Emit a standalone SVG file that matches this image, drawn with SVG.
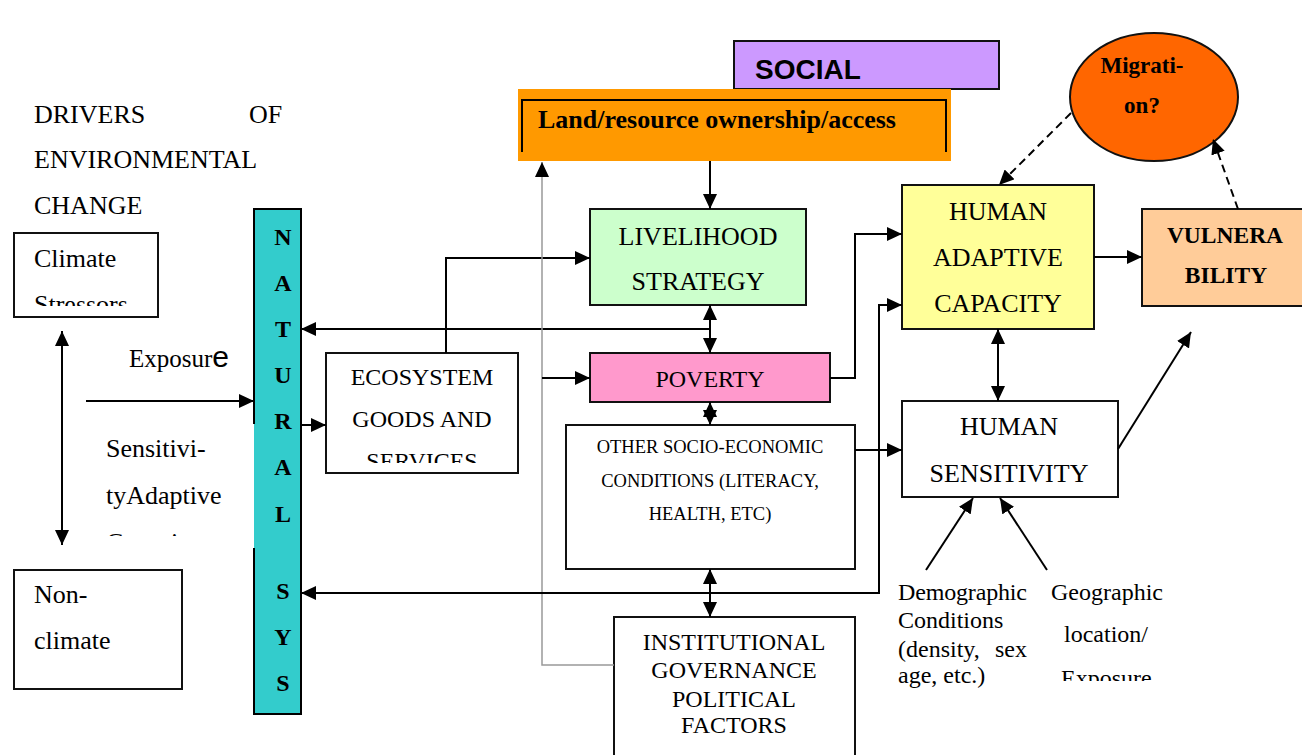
<svg xmlns="http://www.w3.org/2000/svg" width="1302" height="755" viewBox="0 0 1302 755">
<style>
.t{font-family:"Liberation Serif","Times New Roman",serif;fill:#000}
.b{font-weight:bold}
.c{text-anchor:middle}
.box{stroke:#111;stroke-width:2}
.ln{fill:none;stroke:#000;stroke-width:2}
.gr{fill:none;stroke:#999;stroke-width:1.5}
.ds{fill:none;stroke:#000;stroke-width:2;stroke-dasharray:8 5}
</style>
<defs>
<marker id="ah" markerUnits="userSpaceOnUse" markerWidth="15" markerHeight="14" refX="15" refY="7" orient="auto-start-reverse"><path d="M0,0 L15,7 L0,14 z" fill="#000"/></marker>
<marker id="ahg" markerUnits="userSpaceOnUse" markerWidth="15" markerHeight="14" refX="15" refY="7" orient="auto"><path d="M0,0 L15,7 L0,14 z" fill="#000"/></marker>
<clipPath id="cClim"><rect x="14" y="233" width="144" height="73"/></clipPath>
<clipPath id="cSens"><rect x="90" y="430" width="160" height="106"/></clipPath>
<clipPath id="cEco"><rect x="326" y="353" width="192" height="110"/></clipPath>
<clipPath id="cGeo"><rect x="1040" y="570" width="140" height="111"/></clipPath>
</defs>
<rect width="1302" height="755" fill="#fff"/>

<g id="title">
<text class="t" x="34" y="123" font-size="26">DRIVERS</text>
<text class="t" x="249" y="123" font-size="26">OF</text>
<text class="t" x="34" y="168" font-size="26">ENVIRONMENTAL</text>
<text class="t" x="34" y="214" font-size="26">CHANGE</text>
</g>

<g id="climate">
<rect class="box" x="14" y="233" width="144" height="84" fill="#fff"/>
<g clip-path="url(#cClim)">
<text class="t" x="34" y="267" font-size="26">Climate</text>
<text class="t" x="34" y="313" font-size="26">Stressors</text>
</g>
</g>

<g id="nonclimate">
<rect class="box" x="14" y="570" width="168" height="119" fill="#fff"/>
<text class="t" x="34" y="603" font-size="26">Non-</text>
<text class="t" x="34" y="649" font-size="26">climate</text>
</g>

<g id="exposure-label">
<text class="t" x="129" y="367" font-size="25">Exposur<tspan font-family="Liberation Sans, Arial, sans-serif" font-size="30">e</tspan></text>
</g>

<g id="sensitivity-label" clip-path="url(#cSens)">
<text class="t" x="106" y="457" font-size="26">Sensitivi-</text>
<text class="t" x="106" y="504" font-size="26">tyAdaptive</text>
<text class="t" x="106" y="551" font-size="26">Capacity</text>
</g>

<g id="natural-systems">
<rect x="254" y="209" width="47" height="505" fill="#33CCCC"/>
<path class="ln" d="M254,424 V209 H301 V714 H254 V548" stroke="#111"/>
<g class="t b c" font-size="24">
<text x="283" y="245">N</text>
<text x="283" y="291">A</text>
<text x="283" y="337">T</text>
<text x="283" y="383">U</text>
<text x="283" y="429">R</text>
<text x="283" y="475">A</text>
<text x="283" y="522">L</text>
<text x="283" y="599">S</text>
<text x="283" y="645">Y</text>
<text x="283" y="691">S</text>
</g>
</g>

<g id="ecosystem">
<rect class="box" x="326" y="353" width="192" height="120" fill="#fff"/>
<g clip-path="url(#cEco)" class="t c" font-size="24">
<text x="422" y="385">ECOSYSTEM</text>
<text x="422" y="427">GOODS AND</text>
<text x="422" y="469">SERVICES</text>
</g>
</g>

<g id="social">
<rect class="box" x="734" y="41" width="265" height="48" fill="#CC99FF"/>
<text x="755" y="79" font-family="Liberation Sans, Arial, sans-serif" font-weight="bold" font-size="28">SOCIAL</text>
</g>

<g id="land">
<rect x="518" y="89" width="433" height="72" fill="#FF9900"/>
<path class="ln" d="M522,152 V100 H946 V152"/>
<text class="t b" x="538" y="128" font-size="26">Land/resource ownership/access</text>
</g>

<g id="livelihood">
<rect class="box" x="590" y="209" width="216" height="96" fill="#CCFFCC"/>
<text class="t c" x="698" y="245" font-size="26">LIVELIHOOD</text>
<text class="t c" x="698" y="290" font-size="26">STRATEGY</text>
</g>

<g id="poverty">
<rect class="box" x="590" y="353" width="240" height="49" fill="#FF99CC"/>
<text class="t c" x="710" y="387" font-size="24">POVERTY</text>
</g>

<g id="other-socio">
<rect class="box" x="566" y="425" width="289" height="144" fill="#fff"/>
<g class="t c" font-size="18.5">
<text x="710" y="453">OTHER SOCIO-ECONOMIC</text>
<text x="710" y="487">CONDITIONS (LITERACY,</text>
<text x="710" y="520">HEALTH, ETC)</text>
</g>
</g>

<g id="institutional">
<rect class="box" x="614" y="617" width="241" height="150" fill="#fff"/>
<g class="t c" font-size="24">
<text x="734" y="650">INSTITUTIONAL</text>
<text x="734" y="678">GOVERNANCE</text>
<text x="734" y="707">POLITICAL</text>
<text x="734" y="733">FACTORS</text>
</g>
</g>

<g id="human-adaptive">
<rect class="box" x="902" y="185" width="192" height="144" fill="#FFFF99"/>
<g class="t c" font-size="26">
<text x="998" y="220">HUMAN</text>
<text x="998" y="266">ADAPTIVE</text>
<text x="998" y="312">CAPACITY</text>
</g>
</g>

<g id="vulnerability">
<rect class="box" x="1142" y="209" width="170" height="97" fill="#FFCC99"/>
<text class="t b c" x="1225" y="243" font-size="23.5">VULNERA</text>
<text class="t b c" x="1226" y="283" font-size="23.5">BILITY</text>
</g>

<g id="migration">
<ellipse cx="1154" cy="97" rx="84" ry="64" fill="#FF6600" stroke="#111" stroke-width="2"/>
<text class="t b c" x="1142" y="73" font-size="23">Migrati-</text>
<text class="t b c" x="1142" y="113" font-size="23">on?</text>
</g>

<g id="human-sensitivity">
<rect class="box" x="902" y="401" width="216" height="96" fill="#fff"/>
<text class="t c" x="1009" y="435" font-size="26">HUMAN</text>
<text class="t c" x="1009" y="482" font-size="26">SENSITIVITY</text>
</g>

<g id="demographic" class="t" font-size="24">
<text x="898" y="600" textLength="129" lengthAdjust="spacing">Demographic</text>
<text x="898" y="628">Conditions</text>
<text x="898" y="657">(density,</text>
<text x="995" y="657">sex</text>
<text x="898" y="683">age, etc.)</text>
</g>

<g id="geographic" class="t" font-size="24">
<text x="1051" y="600">Geographic</text>
<text x="1064" y="642">location/</text>
<g clip-path="url(#cGeo)"><text x="1061" y="686">Exposure</text></g>
</g>

<g id="connectors">
<line class="ln" x1="62" y1="331" x2="62" y2="545" marker-start="url(#ah)" marker-end="url(#ah)"/>
<line class="ln" x1="86" y1="401" x2="254" y2="401" marker-end="url(#ah)"/>
<line class="ln" x1="301" y1="425" x2="326" y2="425" marker-end="url(#ah)"/>
<path class="ln" d="M446,353 V258 H590" marker-end="url(#ah)"/>
<line class="ln" x1="710" y1="329" x2="301" y2="329" marker-end="url(#ah)"/>
<line class="ln" x1="710" y1="305" x2="710" y2="353" marker-start="url(#ah)" marker-end="url(#ah)"/>
<line class="ln" x1="710" y1="161" x2="710" y2="209" marker-end="url(#ah)"/>
<path class="gr" d="M614,665 H542 V162" marker-end="url(#ahg)"/>
<line class="ln" x1="542" y1="378" x2="590" y2="378" marker-end="url(#ah)"/>
<path class="ln" d="M830,378 H855 V234 H902" marker-end="url(#ah)"/>
<line class="ln" x1="710" y1="402" x2="710" y2="425" marker-start="url(#ah)" marker-end="url(#ah)"/>
<line class="ln" x1="855" y1="450" x2="902" y2="450" marker-end="url(#ah)"/>
<path class="ln" d="M301,593 H879 V305 H902" marker-start="url(#ah)" marker-end="url(#ah)"/>
<line class="ln" x1="710" y1="569" x2="710" y2="617" marker-start="url(#ah)" marker-end="url(#ah)"/>
<line class="ln" x1="1094" y1="257" x2="1142" y2="257" marker-end="url(#ah)"/>
<line class="ln" x1="998" y1="329" x2="998" y2="401" marker-start="url(#ah)" marker-end="url(#ah)"/>
<line class="ln" x1="1118" y1="449" x2="1191" y2="332" marker-end="url(#ah)"/>
<line class="ln" x1="926" y1="570" x2="973" y2="498" marker-end="url(#ah)"/>
<line class="ln" x1="1047" y1="570" x2="1000" y2="498" marker-end="url(#ah)"/>
<line class="ds" x1="1071" y1="113" x2="999" y2="185" marker-end="url(#ah)"/>
<line class="ds" x1="1238" y1="209" x2="1213" y2="139" marker-end="url(#ah)"/>
</g>
</svg>
